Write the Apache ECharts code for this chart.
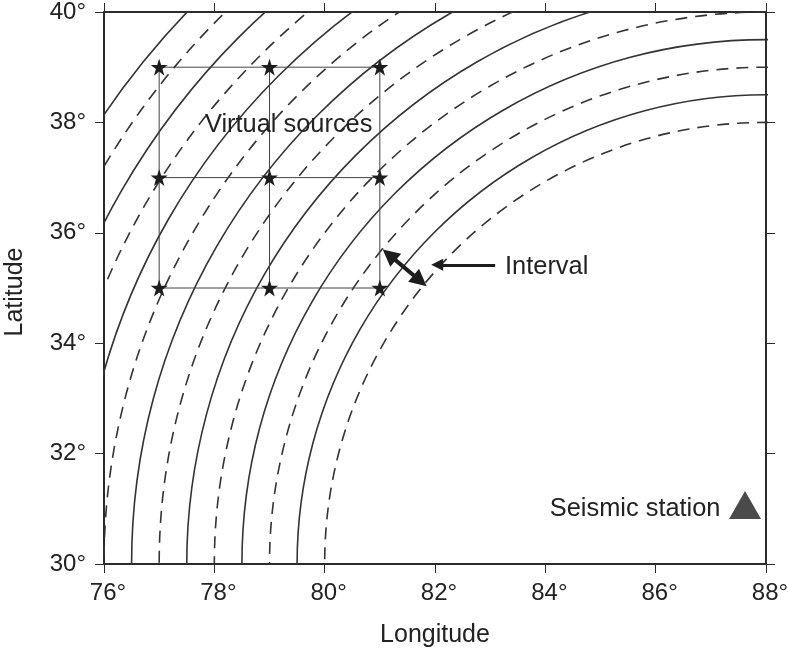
<!DOCTYPE html>
<html><head><meta charset="utf-8">
<style>html,body{margin:0;padding:0;background:#fff}#c{width:788px;height:648px}</style>
<script src="https://cdn.jsdelivr.net/npm/echarts@6/dist/echarts.min.js"></script>
</head><body><div id="c"></div>
<script>
const lonTicks = [76,78,80,82,84,86,88];
const latTicks = [30,32,34,36,38,40];
const dashedCurves = [
 [[80.27,27.93],[80,30],[80.27,32.07],[81.07,34],[82.34,35.66],[84,36.93],[85.93,37.73],[88,38],[90.07,37.73]],
 [[79.31,27.67],[79,30],[79.31,32.33],[80.21,34.5],[81.64,36.36],[83.5,37.79],[85.67,38.69],[88,39],[90.33,38.69]],
 [[78.34,27.41],[78,30],[78.34,32.59],[79.34,35],[80.93,37.07],[83,38.66],[85.41,39.66],[88,40],[90.59,39.66]],
 [[77.37,27.15],[77,30],[77.37,32.85],[78.47,35.5],[80.22,37.78],[82.5,39.53],[85.15,40.63],[88,41]],
 [[76.41,26.89],[76,30],[76.41,33.11],[77.61,36],[79.51,38.49],[82,40.39],[85.11,41.59]],
 [[75.44,26.64],[75,30],[75.44,33.36],[76.74,36.5],[78.81,39.19],[81.5,41.26],[84.64,42.56]],
 [[74.48,26.38],[74,30],[74.48,33.62],[75.88,37],[78.1,39.9],[81,42.12],[84.38,43.52]]
];
const solidCurves = [
 [[79.79,27.8],[79.5,30],[79.79,32.2],[80.64,34.25],[81.99,36.01],[83.75,37.36],[85.8,38.21],[88,38.5],[90.2,38.21]],
 [[78.82,27.54],[78.5,30],[78.82,32.46],[79.77,34.75],[81.28,36.72],[83.25,38.23],[85.54,39.18],[88,39.5],[90.46,39.18]],
 [[77.86,27.28],[77.5,30],[77.86,32.72],[78.91,35.25],[80.58,37.42],[82.75,39.09],[85.28,40.14],[88,40.5]],
 [[76.89,27.02],[76.5,30],[76.89,32.98],[78.04,35.75],[79.87,38.13],[82.25,39.96],[85.02,41.11],[88,41.5]],
 [[75.93,26.76],[75.5,30],[75.93,33.24],[77.17,36.25],[79.16,38.84],[81.75,40.83],[84.76,42.07]],
 [[74.96,26.51],[74.5,30],[74.96,33.49],[76.31,36.75],[78.45,39.55],[81.25,41.69],[84.5,43.04]],
 [[73.99,26.25],[73.5,30],[73.99,33.75],[75.44,37.25],[77.75,40.25],[80.75,42.56],[84.25,44.01]]
];
const sources = [[77,35],[79,35],[81,35],[77,37],[79,37],[81,37],[77,39],[79,39],[81,39]];
const gridLines = [
 [[77,35],[77,39]],[[79,35],[79,39]],[[81,35],[81,39]],
 [[77,35],[81,35]],[[77,37],[81,37]],[[77,39],[81,39]]
];
const station = [87.62,31.07];
const intervalSpan = [[81.17,35.6],[81.73,35.13]];
const intervalPointer = [[83.09,35.42],[82.04,35.42]];
const notes = [
 {text:'Virtual sources', at:[77.83,37.96]},
 {text:'Interval', at:[83.27,35.38]},
 {text:'Seismic station', at:[84.08,30.99]}
];

const INK = '#2b2b2b';
const FONT = '"Liberation Sans", Arial, sans-serif';
const star = 'path://M50 0 L61.8 35.5 L100 35.5 L69.1 57.7 L80.9 95 L50 72 L19.1 95 L30.9 57.7 L0 35.5 L38.2 35.5 Z';
const deg = v => v + '°';
const xBase = {type:'value',min:76,max:88,interval:2,splitLine:{show:false},
  axisLine:{show:true,onZero:false,lineStyle:{color:INK,width:2}},
  axisTick:{show:true,length:9,lineStyle:{color:INK,width:1}}};
const yBase = {type:'value',min:30,max:40,interval:2,splitLine:{show:false},
  axisLine:{show:true,onZero:false,lineStyle:{color:INK,width:2}},
  axisTick:{show:true,length:9,lineStyle:{color:INK,width:1}}};
const axisText = {color:'#222',fontFamily:FONT,fontSize:24};

const curveSeries = (list, dashed) => list.map(pts => ({
  type:'line',data:pts,showSymbol:false,symbol:'none',smooth:0.34,clip:true,silent:true,z:2,
  lineStyle:{color:'#333',width:1.6,type:dashed?[12,8]:'solid'}
}));

const chart = echarts.init(document.getElementById('c'),null,{renderer:'canvas'});
chart.setOption({
  animation:false,backgroundColor:'#fff',
  grid:{left:104,right:22,top:12,bottom:84,containLabel:false,outerBoundsMode:'none'},
  xAxis:[
    Object.assign({},xBase,{position:'bottom',name:'Longitude',nameLocation:'middle',nameGap:59,
      nameTextStyle:{color:'#222',fontFamily:FONT,fontSize:25},
      axisLabel:Object.assign({},axisText,{margin:17,padding:[0,0,0,8],formatter:deg,customValues:lonTicks,showMinLabel:true,showMaxLabel:true})}),
    Object.assign({},xBase,{position:'top',axisLabel:{show:false}})
  ],
  yAxis:[
    Object.assign({},yBase,{position:'left',name:'Latitude',nameLocation:'middle',nameGap:76,
      nameTextStyle:{color:'#222',fontFamily:FONT,fontSize:25,padding:[0,8,0,0]},
      axisLabel:Object.assign({},axisText,{margin:18,padding:[3,0,0,0],formatter:deg,customValues:latTicks,showMinLabel:true,showMaxLabel:true})}),
    Object.assign({},yBase,{position:'right',axisLabel:{show:false}})
  ],
  series:[
    ...curveSeries(solidCurves,false),
    ...curveSeries(dashedCurves,true),
    ...gridLines.map(pts=>({type:'line',data:pts,symbol:'none',silent:true,z:3,
      lineStyle:{color:'#444',width:1}})),
    {type:'scatter',data:sources,symbol:star,symbolSize:17,z:5,silent:true,
      itemStyle:{color:'#1d1d1d',opacity:1}},
    {type:'scatter',data:[station],symbol:'triangle',symbolSize:[32,28],z:5,silent:true,
      itemStyle:{color:'#4a4a4a',opacity:1}},
    {type:'lines',coordinateSystem:'cartesian2d',polyline:false,z:6,silent:true,
      symbol:['triangle','triangle'],symbolSize:17,
      lineStyle:{color:'#1d1d1d',width:4,opacity:1,curveness:0},
      data:[{coords:intervalSpan}]},
    {type:'lines',coordinateSystem:'cartesian2d',polyline:false,z:6,silent:true,
      symbol:['none','triangle'],symbolSize:12,
      lineStyle:{color:'#1d1d1d',width:3,opacity:1,curveness:0},
      data:[{coords:intervalPointer}]},
    {type:'scatter',symbolSize:0,z:7,silent:true,itemStyle:{opacity:1},
      data:notes.map(n=>({value:n.at,name:n.text})),
      label:{show:true,position:'right',distance:0,formatter:'{b}',color:'#222',opacity:1,
        fontFamily:FONT,fontSize:25.4}}
  ]
});
</script></body></html>
